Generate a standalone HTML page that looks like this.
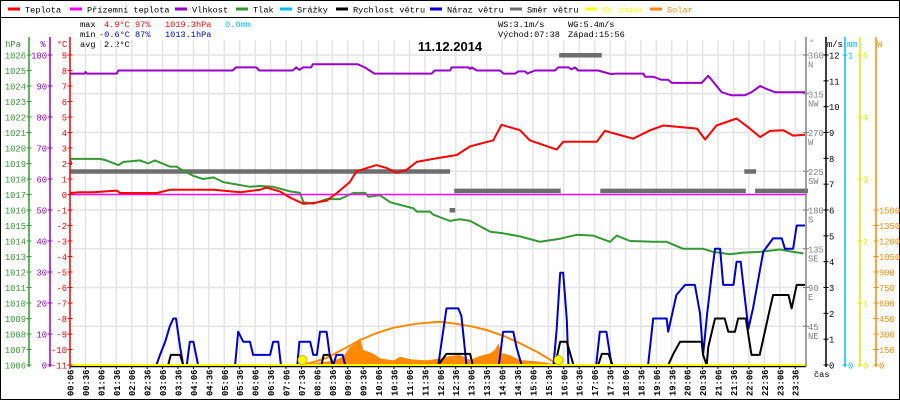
<!DOCTYPE html>
<html><head><meta charset="utf-8"><style>
html,body{margin:0;padding:0;background:#fff;}
svg{display:block;font-family:"Liberation Mono",monospace;}
</style></head><body>
<svg id="chart" width="900" height="400" viewBox="0 0 900 400" xmlns="http://www.w3.org/2000/svg">
<rect x="0.5" y="0.5" width="899" height="399" fill="#fff" stroke="#000"/>
<line x1="0" y1="17.5" x2="900" y2="17.5" stroke="#000"/>
<g id="legend"></g>
<g id="stats" font-size="8.6">
<text x="80" y="27">max</text>
<text x="104" y="27" fill="#ff0000">4.9°C</text>
<text x="135" y="27" fill="#ff0000">97%</text>
<text x="165" y="27" fill="#ff0000">1019.3hPa</text>
<text x="225" y="27" fill="#00bbff">0.0mm</text>
<text x="80" y="37">min</text>
<text x="99" y="37" fill="#0000cc">-0.6°C</text>
<text x="135" y="37" fill="#0000cc">87%</text>
<text x="165" y="37" fill="#0000cc">1013.1hPa</text>
<text x="80" y="47">avg</text>
<text x="104" y="47">2.2°C</text>
<text x="498" y="27">WS:3.1m/s</text>
<text x="568" y="27">WG:5.4m/s</text>
<text x="498" y="37">Východ:07:38</text>
<text x="568" y="37">Západ:15:56</text>
</g>
<g id="grid"></g>
<rect x="412" y="38" width="76" height="14" fill="#fff"/>
<text x="450" y="51" text-anchor="middle" font-family="Liberation Sans, sans-serif" font-weight="bold" font-size="13">11.12.2014</text>
<g id="series"></g>
<g id="axes"></g>
</svg>
<script>
// ---- data ----
const tempT=[6,25,51,97,103,175,200,285,337,375,388,414,434,460,479,505,525,550,563,602,622,641,661,680,712,758,784,829,845,881,900,952,965,1030,1046,1101,1134,1160,1225,1241,1263,1302,1328,1348,1367,1393,1412,1435];
const tempV=[0.1,0.15,0.15,0.25,0.1,0.1,0.3,0.3,0.15,0.3,0.45,0.2,-0.2,-0.6,-0.55,-0.4,0.1,0.8,1.5,1.9,1.7,1.4,1.6,2.1,2.3,2.55,3.1,3.5,4.5,4.15,3.5,2.9,3.4,3.4,4.1,3.6,4.15,4.45,4.25,3.55,4.45,4.9,4.25,3.7,4.1,4.15,3.8,3.85];
const feelT=[6,1437];
const feelV=[0,0];
const humT=[6,35,36,39,97,100,322,329,368,374,439,446,452,459,475,478,566,579,598,709,715,745,748,781,784,787,797,842,849,871,878,891,895,910,949,955,975,981,988,994,1033,1043,1059,1066,1121,1124,1140,1156,1169,1176,1234,1247,1273,1292,1318,1331,1348,1361,1377,1435];
const humV=[94,94,94.5,94,94,95,95,96,96,95,95,96,95.2,96,96,97,97,96,94,94,95,95,96,96,95.5,96,95,95,94,94,94.7,94.7,94,95,95,96,96,95.4,96,95,95,94.5,93.8,94,94,93,93,92,92,91,91,93.3,88,87,87,88,90,89,88,88];
const presT=[6,35,64,77,100,110,142,158,171,200,213,223,246,265,285,304,356,375,401,434,453,460,479,505,531,557,580,586,609,629,674,680,706,712,732,745,764,784,823,848,881,920,959,991,1023,1056,1069,1095,1140,1166,1198,1237,1257,1289,1315,1347,1386,1412,1432];
const presV=[1019.3,1019.3,1019.3,1019.2,1018.9,1019.1,1019.2,1019.0,1019.2,1018.8,1018.8,1018.6,1018.2,1018.0,1018.1,1017.8,1017.5,1017.55,1017.5,1017.2,1017.1,1016.5,1016.4,1016.7,1016.7,1017.1,1017.1,1016.85,1016.95,1016.5,1016.1,1015.9,1015.9,1015.7,1015.45,1015.3,1015.4,1015.3,1014.6,1014.5,1014.3,1013.95,1014.15,1014.4,1014.35,1013.95,1014.35,1014.0,1013.95,1013.95,1013.5,1013.5,1013.3,1013.15,1013.25,1013.3,1013.45,1013.3,1013.2];
const gustT=[6,174,181,191,200,207,212,220,226,233,239,246,255,327,333,343,356,362,395,401,411,416,448,452,473,479,486,492,505,511,518,524,536,541,722,729,738,761,767,777,840,848,868,874,884,946,952,959,965,972,975,1029,1036,1049,1059,1130,1140,1166,1169,1185,1202,1221,1231,1237,1245,1254,1260,1270,1276,1296,1302,1310,1318,1325,1334,1354,1373,1390,1396,1412,1419,1435];
const gustV=[0,0,0.39,0.9,1.5,1.8,1.8,0.7,0,0,0.9,0.9,0,0,1.29,0.9,0.9,0.39,0.39,0.9,0.9,0,0,0.9,0.9,0.39,0.39,1.29,1.29,0.39,0,0.39,0.39,0,0,0.97,2.19,2.19,1.9,0,0,1.29,1.29,0.7,0,0,1.35,3.57,3.57,1.75,0,0,1.29,1.29,0,0,1.8,1.8,1.29,2.71,3.1,3.1,2.0,0.39,2.0,3.55,4.5,4.5,3.1,3.1,4.0,4.0,2.6,1.4,2.19,4.39,4.9,4.9,4.5,4.5,5.4,5.4];
const windT=[6,197,202,220,226,495,499,511,517,722,738,784,789,949,959,972,985,1033,1040,1053,1061,1169,1179,1192,1234,1237,1244,1247,1260,1279,1286,1299,1305,1320,1331,1347,1367,1373,1403,1409,1419,1435];
const windV=[0,0,0.39,0.39,0,0,0.39,0.39,0,0,0.43,0.43,0,0,0.9,0.9,0,0,0.43,0.43,0,0,0.43,0.9,0.9,0.39,0,0.7,1.8,1.8,1.29,1.29,1.8,1.8,0.39,0.39,2.19,2.71,2.71,2.19,3.1,3.1];
const solarT=[463,479,499,518,537,550,560,570,576,586,596,609,635,648,667,699,722,745,764,784,803,823,832,839,845,861,881,920,946,952];
const solarV=[0,15,30,40,80,170,200,260,145,130,110,65,45,80,55,45,60,87,97,48,87,113,145,210,113,97,48,32,10,0];
const sunT=[458,480,505,540,570,600,635,680,725,751,786,816,850,881,915,946,956];
const sunV=[0,30,68,160,242,305,361,400,419,403,375,339,280,210,125,32,0];
const dirStart=[6,6,744,753,957,1037,1317,1338];
const dirEnd=[10,745,755,960,1040,1320,1340,1441];
const dirV=[235,225,180,202.5,360,202.5,225,202.5];
const sunEvents=[458,956];
const xTickLabels=[];for(let i=0;i<48;i++){const m=6+30*i;xTickLabels.push(String(Math.floor(m/60)).padStart(2,'0')+':'+String(m%60).padStart(2,'0'));}
const xTickMins=xTickLabels.map(s=>+s.slice(0,2)*60+ +s.slice(3));

// ---- scales ----
const NS='http://www.w3.org/2000/svg';
const X0=70,X1=806,Y0=55,YB=365;
const x=m=>X0+(m-6)*(736/1431);
const yT=v=>Y0+(9-v)*15.5;
const yP=p=>Y0+(1026-p)*15.5;
const yH=h=>Y0+(100-h)*3.1;
const yW=w=>YB-w*(310/12);
const yS=s=>YB-s*(155/1500);
const yD=d=>YB-d*(310/360);
const yU=u=>YB-u*62;
function mk(tag,attrs,parent){const e=document.createElementNS(NS,tag);for(const k in attrs)e.setAttribute(k,attrs[k]);parent.appendChild(e);return e;}
const gGrid=document.getElementById('grid'),gS=document.getElementById('series'),gA=document.getElementById('axes'),gL=document.getElementById('legend');

// grid
xTickMins.forEach(m=>{const l=mk('line',{x1:x(m),x2:x(m),y1:40,y2:YB,stroke:'#e4e4e4','stroke-width':1.5},gGrid);

});
for(let d=45;d<=360;d+=45){const l=mk('line',{x1:X0,x2:X1,y1:yD(d),y2:yD(d),stroke:'#e4e4e4','stroke-width':1.5},gGrid);

}

function poly(ts,vs,yf,color,name,w){const pts=ts.map((t,i)=>x(t).toFixed(1)+','+yf(vs[i]).toFixed(1)).join(' ');
const p=mk('polyline',{points:pts,fill:'none',stroke:color,'stroke-width':w||2,'stroke-linejoin':'round'},gS);

return p;}

{const pts=solarT.map((t,i)=>x(t).toFixed(1)+','+yS(solarV[i]).toFixed(1));pts.unshift(x(solarT[0]).toFixed(1)+','+YB);pts.push(x(solarT[solarT.length-1]).toFixed(1)+','+YB);
const p=mk('polygon',{points:pts.join(' '),fill:'#ff8800'},gS);

}
poly(sunT,sunV,yS,'#ff8800','solar-max-line',2);
dirV.forEach((d,i)=>{const r=mk('rect',{x:x(dirStart[i]),y:yD(d)-2,width:x(dirEnd[i])-x(dirStart[i]),height:4.5,fill:'#6e6e6e'},gS);

});
poly(humT,humV,yH,'#9900cc','humidity-line');
poly(presT,presV,yP,'#339933','pressure-line');
poly(feelT,feelV,yT,'#ff00ff','apparent-temp-line',1.5);
poly(tempT,tempV,yT,'#ff0000','temperature-line');
poly(gustT,gustV,yW,'#0000cc','wind-gust-line');
poly(windT,windV,yW,'#000000','wind-speed-line');
{const l=mk('line',{x1:X0,x2:X1,y1:YB+1.5,y2:YB+1.5,stroke:'#000','stroke-width':1.5},gS);

}
{const l=mk('line',{x1:X0,x2:X1,y1:YB,y2:YB,stroke:'#ffff00','stroke-width':2},gS);

}
sunEvents.forEach(m=>{const c=mk('circle',{cx:x(m),cy:YB-5,r:4.5,fill:'#ffff00',stroke:'#c8b400','stroke-width':1},gS);

});

xTickLabels.forEach((s,i)=>{const xx=x(xTickMins[i]);
const tk=mk('line',{x1:xx,x2:xx,y1:YB+1,y2:YB+4,stroke:'#000'},gA);


const t=mk('text',{transform:`translate(${xx+3.5},396) rotate(-90)`,'font-size':8.8,'font-weight':'bold'},gA);t.textContent=s;

});
{const t=mk('text',{x:814,y:377,'font-size':8.6},gA);t.textContent='čas';

}

function axis(ax,color,name,title,tx,anchor,ticks,yf,lx,lanchor){
const l=mk('line',{x1:ax,x2:ax,y1:37,y2:367,stroke:color,'stroke-width':1.5},gA);


if(title){const t=mk('text',{x:tx,y:47,fill:color,'font-size':8.8,'text-anchor':anchor},gA);t.textContent=title;

}
ticks.forEach(v=>{const yy=yf(v);const tk=mk('line',{x1:ax-2.5,x2:ax+2.5,y1:yy,y2:yy,stroke:color},gA);


const t=mk('text',{x:lx,y:yy+3.5,fill:color,'font-size':8.8,'text-anchor':lanchor},gA);t.textContent=v;

});}
const rng=(a,b,s)=>{const r=[];for(let v=a;v<=b;v+=s)r.push(v);return r;};
axis(29,'#339933','pressure-axis','hPa',13,'middle',rng(1006,1026,1),yP,26,'end');
axis(50,'#9900cc','humidity-axis','%',43,'middle',rng(0,100,10),yH,47,'end');
axis(70,'#ff0000','temp-axis','°C',62,'middle',rng(-11,9,1),yT,67,'end');
axis(826,'#000','wind-axis','m/s',827,'start',rng(0,12,1),yW,829,'start');
axis(845,'#00bbff','rain-axis','mm',847,'start',[0,1],v=>YB-v*310,848,'start');
axis(860,'#e6e600','uv-axis','',0,'start',rng(0,5,1),yU,863,'start');
axis(876,'#ff8800','solar-axis','W',877,'start',rng(0,1500,150),yS,879,'start');
{const l=mk('line',{x1:806,x2:806,y1:37,y2:367,stroke:'#808080','stroke-width':1.5},gA);


const t=mk('text',{x:809,y:45,fill:'#808080','font-size':8.6},gA);t.textContent='°';


const dirNames=['NE','E','SE','S','SW','W','NW','N'];
dirNames.forEach((n,i)=>{const d=45*(i+1),yy=yD(d);
const tk=mk('line',{x1:803,x2:809,y1:yy,y2:yy,stroke:'#808080'},gA);


const a=mk('text',{x:808,y:yy+3.5,fill:'#808080','font-size':8.8},gA);a.textContent=d;


const b=mk('text',{x:808,y:yy+12.5,fill:'#808080','font-size':8.8},gA);b.textContent=n;

});}

const legNames=['Teplota','Přízemní teplota','Vlhkost','Tlak','Srážky','Rychlost větru','Náraz větru','Směr větru','UV index','Solar'];
const legColors=['#ff0000','#ff00ff','#9900cc','#339933','#00bbff','#000000','#0000cc','#6e6e6e','#ffff00','#ff8800'];
const legX=[8,70,175,236,280,336,430,510,585,650];
legNames.forEach((n,i)=>{const r=mk('rect',{x:legX[i],y:7.5,width:12,height:3,fill:legColors[i]},gL);


const t=mk('text',{x:legX[i]+17,y:12.5,'font-size':8.6,fill:i>=8?legColors[i]:'#000'},gL);t.textContent=n;

});
</script>
</body></html>
